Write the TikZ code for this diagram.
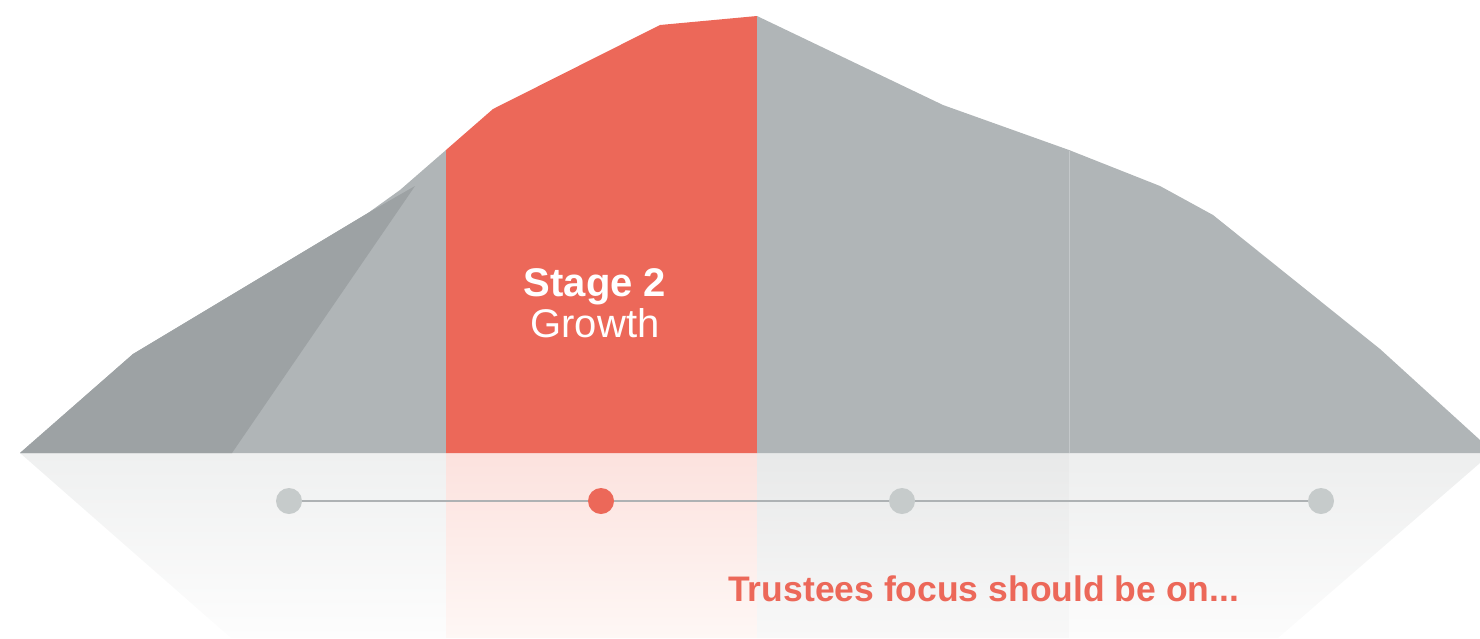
\documentclass[tikz,border=0pt]{standalone}
\usepackage{fontspec}
\setmainfont{Liberation Sans}
\begin{document}
\begin{tikzpicture}[x=1pt,y=-1pt,
  coralfill/.style={fill=coral},
  rockfill/.style={fill=rockgray},
  dot/.style={circle,inner sep=0pt,minimum size=26pt,fill=dotgray},
  timeline/.style={draw=linegray,line width=1.5pt},
  headline/.style={text=white,inner sep=0pt,anchor=base},
]
\definecolor{coral}{HTML}{EC6859}
\definecolor{rockgray}{HTML}{B0B5B7}
\definecolor{rockdark}{HTML}{9DA2A4}
\definecolor{dotgray}{HTML}{C6CBCB}
\definecolor{linegray}{HTML}{AEB2B4}
\definecolor{seamgray}{HTML}{C4C8CA}
\definecolor{mistA}{HTML}{EFF0F0}
\definecolor{mistAend}{HTML}{FDFDFD}
\definecolor{mistB}{HTML}{FCE2DE}
\definecolor{mistBend}{HTML}{FEF7F5}
\definecolor{mistC}{HTML}{E8E9E9}
\definecolor{mistCend}{HTML}{F8F8F8}
\definecolor{mistD}{HTML}{EDEEEE}
\definecolor{mistDend}{HTML}{FCFCFC}

\useasboundingbox (0,0) rectangle (1480,638);

% mirrored ground below the mountain, fading out downwards
\begin{scope}
  \clip (20,453) -- (1480,453) -- (1480,463) -- (1278,638) -- (231,638) -- cycle;
  \shade[top color=mistA, bottom color=mistAend] (20,453) rectangle (446,638);
  \shade[top color=mistB, bottom color=mistBend] (446,453) rectangle (757,638);
  \shade[top color=mistC, bottom color=mistCend] (757,453) rectangle (1069,638);
  \shade[top color=mistD, bottom color=mistDend] (1069,453) rectangle (1480,638);
\end{scope}

% stage 1: light slope with a darker front face
\fill[rockfill] (20,453) -- (133,354) -- (368,213) -- (400,190) -- (446,150) -- (446,453) -- cycle;
\fill[rockdark] (20,453) -- (133,354) -- (368,213) -- (415,186) -- (232,453) -- cycle;

% stage 2: highlighted
\fill[coralfill] (446,453) -- (446,150) -- (493,109) -- (660,25) -- (757,16) -- (757,453) -- cycle;

% stage 3
\fill[rockfill] (757,453) -- (757,16) -- (943,105) -- (1069,150) -- (1069,453) -- cycle;

% stage 4
\fill[rockfill] (1069,453) -- (1069,150) -- (1160,186) -- (1213,215) -- (1380,349) -- (1480,440) -- (1480,453) -- cycle;
\draw[seamgray,line width=0.8pt] (1069,151) -- (1069,453);

% stage labels
\node[headline,font=\bfseries\fontsize{40}{44}\selectfont] (stage) at (595,296) {Stage 2};
\node[headline,font=\fontsize{40}{44}\selectfont] (phase) at (595,337) {Growth};

% timeline
\node[dot] (d1) at (289,501) {};
\node[dot,fill=coral] (d2) at (601,501) {};
\node[dot] (d3) at (902,501) {};
\node[dot] (d4) at (1321,501) {};
\draw[timeline] (d1) -- (d2) (d2) -- (d3) (d3) -- (d4);

\node[text=coral,inner sep=0pt,anchor=base west,font=\bfseries\fontsize{35.5}{40}\selectfont] (focus) at (728,601) {Trustees focus should be on...};
\end{tikzpicture}
\end{document}
